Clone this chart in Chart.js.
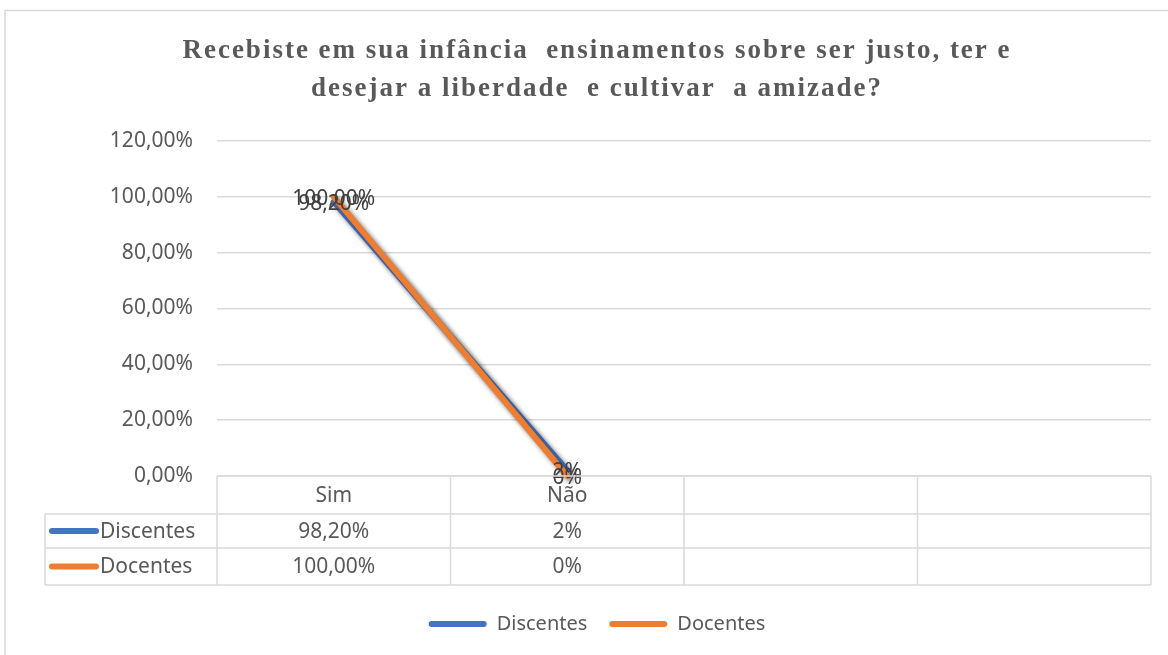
<!DOCTYPE html>
<html><head><meta charset="utf-8">
<script src="https://cdn.jsdelivr.net/npm/chart.js@4/dist/chart.umd.min.js"></script>
<style>html,body{margin:0;padding:0;background:#fff;}#wrap{position:relative;width:1168px;height:655px;}</style>
</head><body><div id="wrap"><canvas id="c" width="1168" height="655"></canvas></div>
<script>
const categories = ['Sim', 'Não', '', ''];
const seriesNames = ['Discentes', 'Docentes'];
const discentes = [0.982, 0.02, null, null];
const docentes = [1.0, 0.0, null, null];
const discentesLabels = ['98,20%', '2%', '', ''];
const docentesLabels = ['100,00%', '0%', '', ''];
const yMin = 0, yMax = 1.2, yStep = 0.2;
const titleLines = ['Recebiste em sua infância  ensinamentos sobre ser justo, ter e', 'desejar a liberdade  e cultivar  a amizade?'];
const colors = ['#4472C4', '#ED7D31'];
const tableLabels = [discentesLabels, docentesLabels];

const FONT = "'Noto Sans', sans-serif";
const GRID = '#d9d9d9';
const PAD = { left: 43, right: 17, top: 141, bottom: 11 };

const frame = {
  id: 'frame',
  beforeDraw(chart) {
    const ctx = chart.ctx;
    ctx.save();
    ctx.fillStyle = '#fff';
    ctx.fillRect(0, 0, chart.width, chart.height);
    ctx.strokeStyle = GRID; ctx.lineWidth = 1.5;
    ctx.beginPath();
    ctx.moveTo(5, chart.height); ctx.lineTo(5, 10.5); ctx.lineTo(chart.width, 10.5);
    ctx.stroke();
    // chart title
    ctx.font = "bold 27px 'Liberation Serif', serif";
    ctx.fillStyle = '#595959';
    ctx.textAlign = 'center'; ctx.textBaseline = 'middle';
    if ('letterSpacing' in ctx) ctx.letterSpacing = '2px';
    const cx = (PAD.left + chart.width - PAD.right) / 2;
    titleLines.forEach((t, i) => ctx.fillText(t, cx, 51 + i * 38));
    ctx.restore();
  }
};

const shadow = {
  id: 'shadow',
  beforeDatasetDraw(chart) {
    const ctx = chart.ctx;
    ctx.save();
    ctx.shadowColor = 'rgba(0,0,0,0.45)';
    ctx.shadowBlur = 5; ctx.shadowOffsetX = 3; ctx.shadowOffsetY = 3;
  },
  afterDatasetDraw(chart) { chart.ctx.restore(); }
};

const labelsAndTable = {
  id: 'labelsAndTable',
  afterDatasetsDraw(chart) {
    const ctx = chart.ctx;
    const ca = chart.chartArea;
    const xs = chart.scales.x;
    ctx.save();
    // data labels
    ctx.font = "21px " + FONT; ctx.fillStyle = '#404040';
    ctx.textAlign = 'center'; ctx.textBaseline = 'middle';
    chart.data.datasets.forEach((ds, di) => {
      const meta = chart.getDatasetMeta(di);
      meta.data.forEach((pt, i) => {
        if (ds.data[i] === null) return;
        ctx.fillText(tableLabels[di][i], pt.x, pt.y + 2);
      });
    });
    // data table
    const step = xs.getPixelForTick(1) - xs.getPixelForTick(0);
    const top = ca.bottom;
    const rows = [top, top + 38, top + 72, top + 109];
    const left = ca.left - 172;
    ctx.strokeStyle = GRID; ctx.lineWidth = 1.5;
    ctx.beginPath();
    ctx.moveTo(ca.left, rows[0]); ctx.lineTo(ca.right, rows[0]);
    for (let r = 1; r < 4; r++) { ctx.moveTo(left, rows[r]); ctx.lineTo(ca.right, rows[r]); }
    ctx.moveTo(left, rows[1]); ctx.lineTo(left, rows[3]);
    for (let i = 0; i <= categories.length; i++) {
      const bx = xs.getPixelForTick(0) - step / 2 + i * step;
      ctx.moveTo(bx, rows[0]); ctx.lineTo(bx, rows[3]);
    }
    ctx.stroke();
    ctx.fillStyle = '#595959'; ctx.font = "21px " + FONT;
    categories.forEach((c, i) => ctx.fillText(c, xs.getPixelForTick(i), (rows[0] + rows[1]) / 2 + 1));
    tableLabels.forEach((row, r) => {
      const cy = (rows[r + 1] + rows[r + 2]) / 2;
      row.forEach((t, i) => ctx.fillText(t, xs.getPixelForTick(i), cy + 1));
      ctx.strokeStyle = colors[r]; ctx.lineWidth = 6; ctx.lineCap = 'round';
      ctx.beginPath(); ctx.moveTo(left + 7, cy); ctx.lineTo(left + 51, cy); ctx.stroke();
      ctx.textAlign = 'left';
      ctx.fillText(seriesNames[r], left + 55, cy + 1);
      ctx.textAlign = 'center';
    });
    ctx.restore();
  }
};

new Chart(document.getElementById('c'), {
  type: 'line',
  data: {
    labels: categories,
    datasets: [
      { label: seriesNames[0], data: discentes, borderColor: colors[0], backgroundColor: colors[0], borderWidth: 6, pointRadius: 0, order: 1, clip: false, borderCapStyle: 'round' },
      { label: seriesNames[1], data: docentes, borderColor: colors[1], backgroundColor: colors[1], borderWidth: 6, pointRadius: 0, order: 0, clip: false, borderCapStyle: 'round' }
    ]
  },
  options: {
    responsive: false, devicePixelRatio: 1, animation: false,
    layout: { padding: PAD },
    plugins: {
      tooltip: { enabled: false },
      title: { display: false },
      legend: {
        position: 'bottom',
        labels: {
          font: { family: FONT, size: 20 }, color: '#595959',
          boxWidth: 58, boxHeight: 6, padding: 22, useBorderRadius: true, borderRadius: 3,
          sort: (a, b) => a.datasetIndex - b.datasetIndex,
          generateLabels(chart) {
            return chart.data.datasets.map((ds, i) => ({
              text: ds.label, fillStyle: ds.borderColor, strokeStyle: ds.borderColor, lineWidth: 0,
              fontColor: '#595959', datasetIndex: i, hidden: false, borderRadius: 3
            }));
          }
        }
      }
    },
    scales: {
      x: {
        offset: true,
        ticks: { display: false }, grid: { display: false }, border: { display: false },
        afterFit(s) { s.height = 116; }
      },
      y: {
        min: yMin, max: yMax,
        ticks: { stepSize: yStep, color: '#595959', font: { family: FONT, size: 21 }, padding: 24,
          callback: v => (v * 100).toFixed(2).replace('.', ',') + '%' },
        grid: { color: GRID, lineWidth: 1.5, drawTicks: false },
        border: { display: false },
        afterFit(s) { s.width = 174; }
      }
    }
  },
  plugins: [frame, shadow, labelsAndTable]
});
</script></body></html>
